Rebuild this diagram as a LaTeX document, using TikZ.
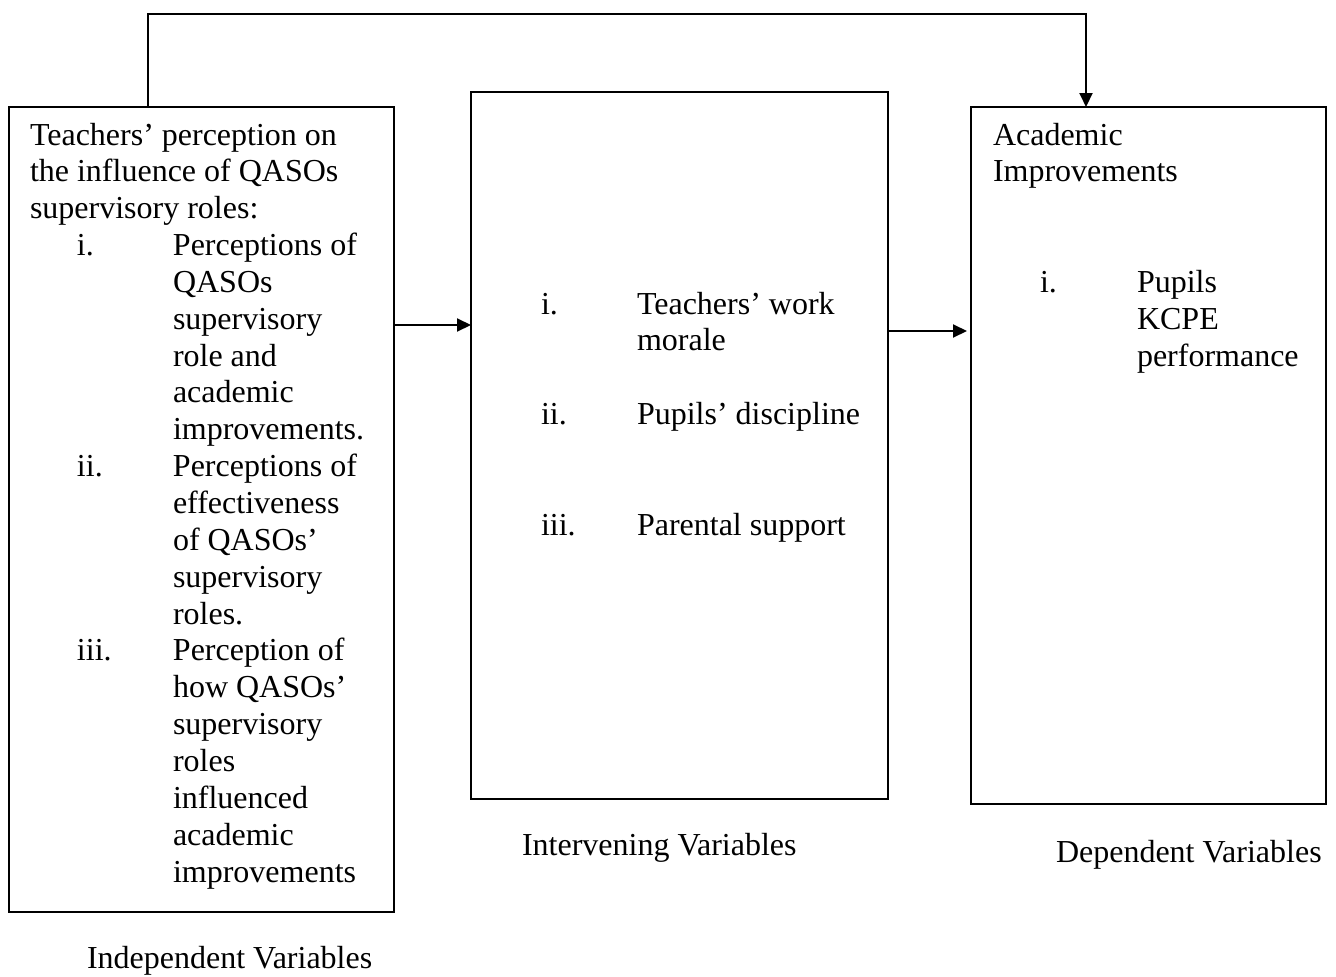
\documentclass[tikz,border=0pt]{standalone}
\usepackage{fontspec}
\setmainfont{Liberation Serif}
\usetikzlibrary{arrows.meta}
\begin{document}
\begin{tikzpicture}[x=1pt,y=-1pt,
  boxst/.style={draw, line width=2pt, inner sep=0pt, outer sep=0pt, anchor=north west},
  txt/.style={inner sep=0pt, outer sep=0pt, anchor=base west, font=\fontsize{32}{36.85}\selectfont},
  arrconn/.style={line width=2pt, -{Triangle[length=14pt,width=13pt]}}]
\useasboundingbox (0,0) rectangle (1336,977);
% boxes
\node[boxst, minimum width=385.5pt, minimum height=805pt] (ind) at (8.5,107) {};
\node[boxst, minimum width=416.5pt, minimum height=707pt] (int) at (471,92) {};
\node[boxst, minimum width=355pt, minimum height=697pt] (dep) at (971,107) {};
% box texts
\node[txt] (indtext) at (30,145) {\begin{tabular}[t]{@{}l@{}}
Teachers’ perception on\\
the influence of QASOs\\
supervisory roles:\\
\hspace{47pt}\makebox[96pt][l]{i.}Perceptions of\\
\hspace{143pt}QASOs\\
\hspace{143pt}supervisory\\
\hspace{143pt}role and\\
\hspace{143pt}academic\\
\hspace{143pt}improvements.\\
\hspace{47pt}\makebox[96pt][l]{ii.}Perceptions of\\
\hspace{143pt}effectiveness\\
\hspace{143pt}of QASOs’\\
\hspace{143pt}supervisory\\
\hspace{143pt}roles.\\
\hspace{47pt}\makebox[96pt][l]{iii.}Perception of\\
\hspace{143pt}how QASOs’\\
\hspace{143pt}supervisory\\
\hspace{143pt}roles\\
\hspace{143pt}influenced\\
\hspace{143pt}academic\\
\hspace{143pt}improvements
\end{tabular}};
\node[txt] (inttext) at (541,314) {\begin{tabular}[t]{@{}l@{}}
\makebox[96pt][l]{i.}Teachers’ work\\
\hspace{96pt}morale\\
\mbox{}\\
\makebox[96pt][l]{ii.}Pupils’ discipline\\
\mbox{}\\
\mbox{}\\
\makebox[96pt][l]{iii.}Parental support
\end{tabular}};
\node[txt] (deptext) at (993,145) {\begin{tabular}[t]{@{}l@{}}
Academic\\
Improvements\\
\mbox{}\\
\mbox{}\\
\hspace{47pt}\makebox[97pt][l]{i.}Pupils\\
\hspace{144pt}KCPE\\
\hspace{144pt}performance
\end{tabular}};
% captions
\node[txt] (indcap) at (87,968) {Independent Variables};
\node[txt] (intcap) at (522,855) {Intervening Variables};
\node[txt] (depcap) at (1056,862) {Dependent Variables};
% connectors
\coordinate (tl) at (148,14);
\coordinate (tr) at (1086,14);
\coordinate (a1) at (0,325);
\coordinate (a2) at (0,331);
\draw[arrconn] (ind.north -| tl) -- (tl) -- (tr) -- (dep.north -| tr);
\draw[arrconn] (ind.east |- a1) -- (int.west |- a1);
\draw[arrconn] (int.east |- a2) -- ([xshift=-4pt]dep.west |- a2);
\end{tikzpicture}
\end{document}
